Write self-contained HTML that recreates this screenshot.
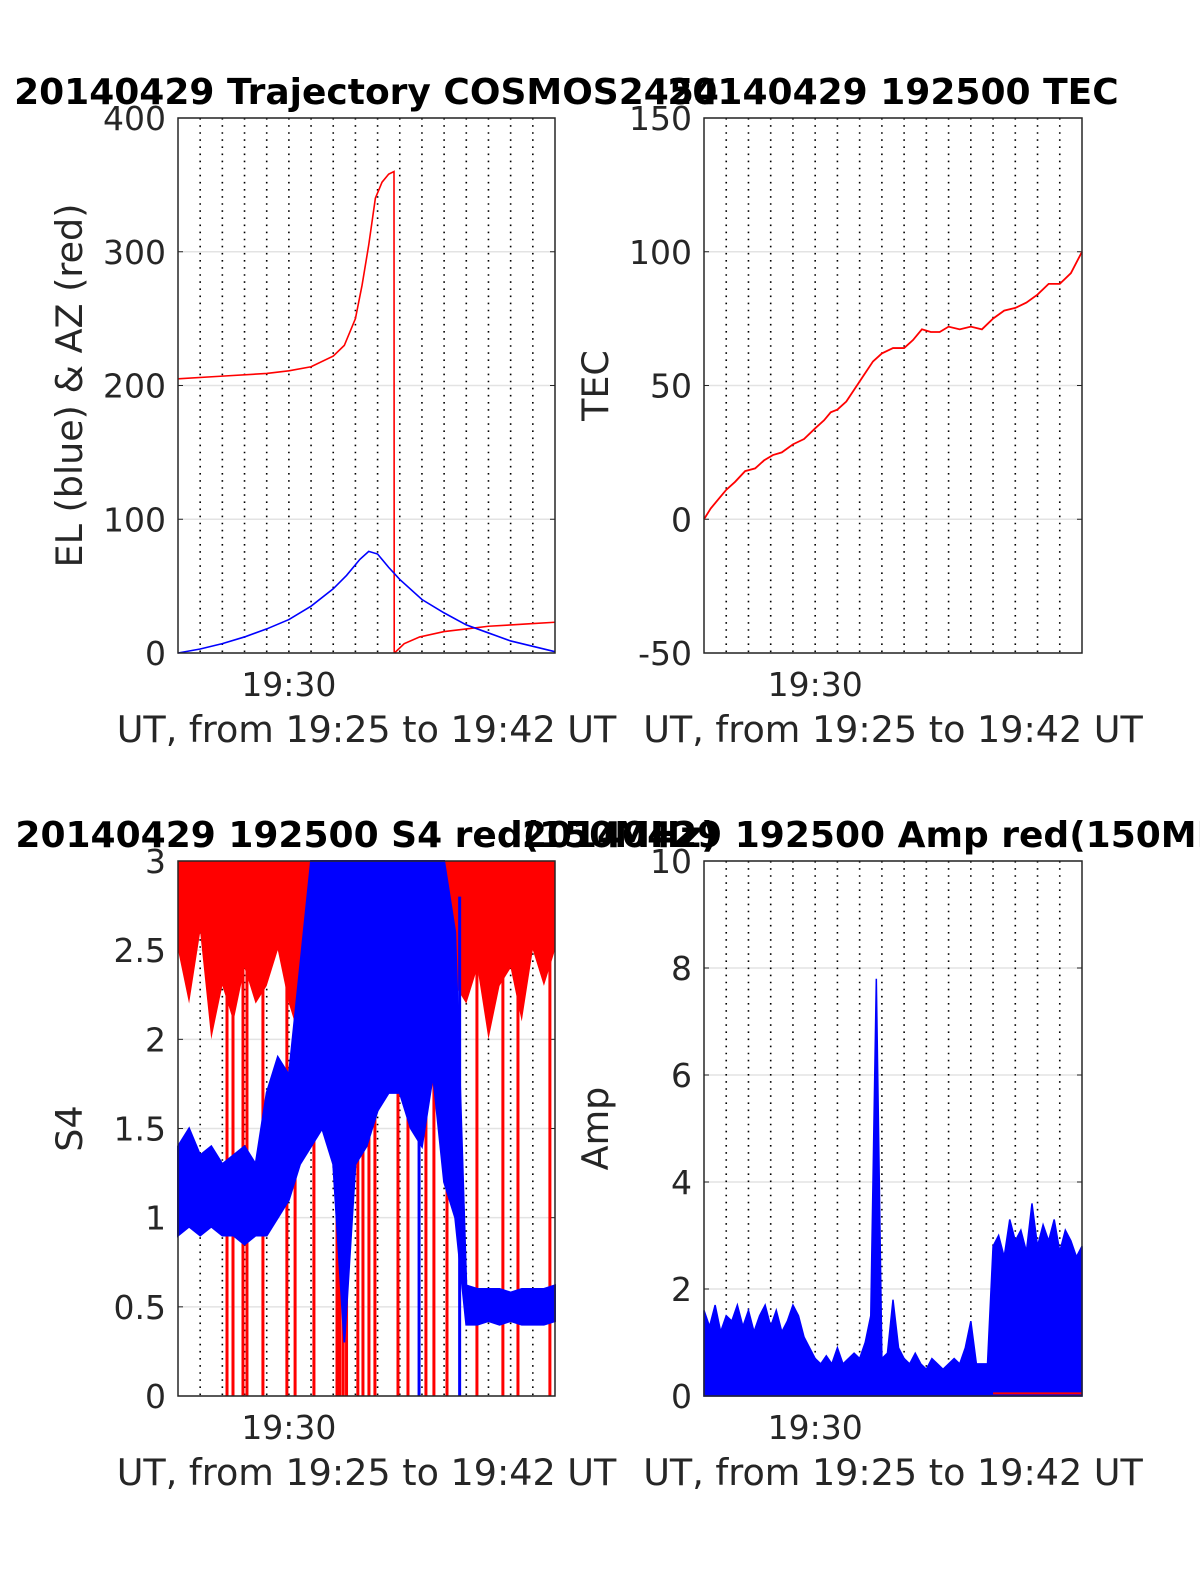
<!DOCTYPE html>
<html><head><meta charset="utf-8"><style>
body{margin:0;background:#fff}
svg text{font-family:"DejaVu Sans","Liberation Sans",sans-serif;fill:#262626}
</style></head><body>
<svg id="fig" width="1200" height="1575" xmlns="http://www.w3.org/2000/svg"></svg>
<script>
// ---- data ----
const azT=[0,2,4,5,6,7,7.5,8,8.3,8.6,8.9,9.2,9.5,9.74];
const azV=[205,207,209,211,214,222,230,250,275,305,340,352,358,360];
const az2T=[9.76,10.2,10.9,12,13,14,15,16,17];
const az2V=[0,7,12,16,18,20,21,22,23];
const elT=[0,1,2,3,4,5,6,7,7.6,8.2,8.6,9,9.5,10,11,12,13,14,15,16,17];
const elV=[0,3,7,12,18,25,35,48,58,70,76,74,64,55,40,30,21,15,9,5,1];
const tecT=[0,0.3,0.7,1,1.4,1.85,2.3,2.7,3.1,3.5,4,4.5,5,5.4,5.7,6,6.4,6.8,7.2,7.6,8,8.5,9,9.4,9.8,10.2,10.6,11,11.5,12,12.5,13,13.5,14,14.5,15,15.5,16,16.5,17];
const tecV=[0,4,8,11,14,18,19,22,24,25,28,30,34,37,40,41,44,49,54,59,62,64,64,67,71,70,70,72,71,72,71,75,78,79,81,84,88,88,92,100];
const s4BT=[0,0.5,1,1.5,2,2.5,3,3.5,4,4.5,5,5.5,6,6.5,7,7.5,8,8.5,9,9.5,10,10.5,11,11.5,12,12.5,13,13.5,14,14.5,15,15.5,16,16.5,17];
const s4BUp=[1.4,1.5,1.35,1.4,1.3,1.35,1.4,1.3,1.7,1.9,1.8,2.4,3,3,3,3,3,3,3,3,3,3,3,3,3,2.6,0.62,0.6,0.6,0.6,0.58,0.6,0.6,0.6,0.62];
const s4BLo=[0.9,0.95,0.9,0.95,0.9,0.9,0.85,0.9,0.9,1.0,1.1,1.3,1.4,1.5,1.3,0.3,1.3,1.4,1.6,1.7,1.7,1.5,1.4,1.8,1.2,1.0,0.4,0.4,0.42,0.4,0.42,0.4,0.4,0.4,0.42];
const s4REnv=[2.5,2.2,2.6,2.0,2.3,2.1,2.4,2.2,2.3,2.5,2.2,2.0,2.6,2.3,2.0,1.8,2.2,2.0,2.1,1.9,2.2,2.0,2.3,2.1,2.2,2.3,2.2,2.4,2.0,2.3,2.4,2.1,2.5,2.3,2.5];
const s4RSpikes=[2.21,2.48,2.93,3.11,3.83,4.91,5.28,6.13,7.17,7.3,7.45,7.6,8.11,8.34,8.61,8.88,9.92,10.37,11.18,11.54,12.13,13.48,14.65,15.33,16.77];
const s4BSpikes=[10.87,12.7];
const ampT=[];for(let i=0;i<=68;i++)ampT.push(i*0.25);
const ampEnv=[1.6,1.3,1.7,1.2,1.5,1.4,1.7,1.3,1.6,1.2,1.5,1.7,1.3,1.6,1.2,1.4,1.7,1.5,
1.1,0.9,0.7,0.6,0.75,0.6,0.9,0.6,0.7,0.8,0.7,1.0,
1.5,7.8,0.7,0.8,1.8,0.9,
0.7,0.6,0.8,0.6,0.5,0.7,0.6,0.5,0.6,0.7,0.6,0.9,1.4,0.6,0.6,0.6,
2.8,3.0,2.6,3.3,2.9,3.1,2.7,3.6,2.8,3.2,2.9,3.3,2.7,3.1,2.9,2.6,2.8];
const ampRedT=[13,17];const ampRedV=[0.05,0.05];
// ---- drawing ----
const NS="http://www.w3.org/2000/svg",svg=document.getElementById('fig');
function el(tag,attrs,parent){const e=document.createElementNS(NS,tag);for(const k in attrs)e.setAttribute(k,attrs[k]);(parent||svg).appendChild(e);return e;}
function txt(s,attrs,name){const e=el('text',attrs);e.textContent=s;

return e;}
function axes(x0,y0,w,h,ymin,ymax,ticks,name,title,ylab){
 const g=el('g',{});
 
 
 const sx=t=>x0+t/17*w, sy=v=>y0+h-(v-ymin)/(ymax-ymin)*h;
 ticks.forEach(v=>{el('line',{x1:x0,x2:x0+w,y1:sy(v),y2:sy(v),stroke:'#e3e3e3','stroke-width':1.5},g);
  txt(String(v),{x:x0-12,y:sy(v)+12,'text-anchor':'end','font-size':33},'y-tick-label');
  el('line',{x1:x0,x2:x0+5,y1:sy(v),y2:sy(v),stroke:'#262626'},g);el('line',{x1:x0+w-5,x2:x0+w,y1:sy(v),y2:sy(v),stroke:'#262626'},g);});
 for(let m=1;m<17;m++)el('line',{x1:sx(m),x2:sx(m),y1:y0,y2:y0+h,stroke:'#000','stroke-width':1.6,'stroke-dasharray':'1.6 5.5'},g);
 txt('19:30',{x:sx(5),y:y0+h+43,'text-anchor':'middle','font-size':33},'x-tick-label');
 txt('UT, from 19:25 to 19:42 UT',{x:x0+w/2,y:y0+h+89,'text-anchor':'middle','font-size':36.5},'x-axis-title');
 txt(ylab,{x:0,y:0,'text-anchor':'middle','font-size':36.5,transform:`translate(${x0-96},${y0+h/2}) rotate(-90)`},'y-axis-title');
 txt(title,{x:x0+w/2,y:y0-14,'text-anchor':'middle','font-size':36,'font-weight':'bold',style:'fill:#000'},'chart-title');
 return {g,sx,sy,frame:()=>el('rect',{x:x0,y:y0,width:w,height:h,fill:'none',stroke:'#262626','stroke-width':1.5})};
}
function line(a,T,V,color,wd,name){const p=el('polyline',{points:T.map((t,i)=>a.sx(t)+','+a.sy(V[i])).join(' '),fill:'none',stroke:color,'stroke-width':wd});

return p;}
// top-left
const A1=axes(178,118,377,535,0,400,[0,100,200,300,400],'trajectory-chart','20140429 Trajectory COSMOS2454','EL (blue) & AZ (red)');
line(A1,azT.concat([9.75]),azV.concat([0]),'#f00',1.6,'az-line');
line(A1,az2T,az2V,'#f00',1.6,'az-line-after-wrap');
line(A1,elT,elV,'#00f',1.6,'el-line');
A1.frame();
// top-right
const A2=axes(704,118,378,535,-50,150,[-50,0,50,100,150],'tec-chart','20140429 192500 TEC','TEC');
line(A2,tecT,tecV,'#f00',1.8,'tec-line');
A2.frame();
// bottom-left
const A3=axes(178,861,377,535,0,3,[0,0.5,1,1.5,2,2.5,3],'s4-chart','20140429 192500 S4 red(150MHz)','S4');
{const pts=s4BT.map((t,i)=>A3.sx(t)+','+A3.sy(s4REnv[i]));const p=el('polygon',{points:A3.sx(0)+','+A3.sy(3)+' '+pts.join(' ')+' '+A3.sx(17)+','+A3.sy(3),fill:'#f00'});

}
s4RSpikes.forEach(t=>{const l=el('line',{x1:A3.sx(t),x2:A3.sx(t),y1:A3.sy(3),y2:A3.sy(0),stroke:'#f00','stroke-width':3});

});
{const up=s4BT.map((t,i)=>A3.sx(t)+','+A3.sy(s4BUp[i]));const lo=s4BT.map((t,i)=>A3.sx(t)+','+A3.sy(s4BLo[i])).reverse();
const p=el('polygon',{points:up.concat(lo).join(' '),fill:'#00f',stroke:'#00f','stroke-width':2});

}
s4BSpikes.forEach(t=>{const l=el('line',{x1:A3.sx(t),x2:A3.sx(t),y1:A3.sy(2.8),y2:A3.sy(0),stroke:'#00f','stroke-width':3});

});
A3.frame();
// bottom-right
const A4=axes(704,861,378,535,0,10,[0,2,4,6,8,10],'amp-chart','20140429 192500 Amp red(150MHz)','Amp');
{const pts=ampT.map((t,i)=>A4.sx(t)+','+A4.sy(ampEnv[i]));const p=el('polygon',{points:A4.sx(0)+','+A4.sy(0)+' '+pts.join(' ')+' '+A4.sx(17)+','+A4.sy(0),fill:'#00f',stroke:'#00f','stroke-width':1.5});

}
line(A4,ampRedT,ampRedV,'#f00',2,'amp-red-series');
A4.frame();
</script>
</body></html>
